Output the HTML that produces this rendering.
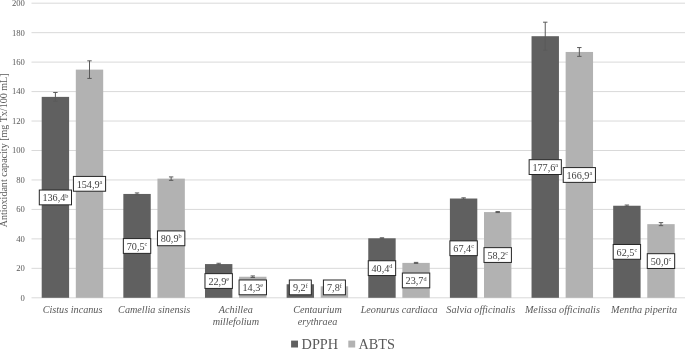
<!DOCTYPE html>
<html><head><meta charset="utf-8"><title>Antioxidant capacity chart</title><style>
html,body{margin:0;padding:0;background:#fff;}
body{width:685px;height:349px;overflow:hidden;}
svg{display:block;}
text{font-family:"Liberation Serif","Times New Roman",serif;}
.tick{font-size:8.6px;fill:#595959;}
.lab{font-size:10.2px;fill:#404040;}
.sup{font-size:6.2px;}
.cat{font-size:10.2px;font-style:italic;fill:#595959;}
.ttl{font-size:10.05px;fill:#595959;}
.leg{font-size:14.3px;fill:#595959;}
</style></head>
<body>
<svg width="685" height="349" viewBox="0 0 685 349"><line x1="31.5" x2="685" y1="297.80" y2="297.80" stroke="#d9d9d9" stroke-width="1"/><line x1="31.5" x2="685" y1="268.34" y2="268.34" stroke="#d9d9d9" stroke-width="1"/><line x1="31.5" x2="685" y1="238.88" y2="238.88" stroke="#d9d9d9" stroke-width="1"/><line x1="31.5" x2="685" y1="209.42" y2="209.42" stroke="#d9d9d9" stroke-width="1"/><line x1="31.5" x2="685" y1="179.96" y2="179.96" stroke="#d9d9d9" stroke-width="1"/><line x1="31.5" x2="685" y1="150.50" y2="150.50" stroke="#d9d9d9" stroke-width="1"/><line x1="31.5" x2="685" y1="121.04" y2="121.04" stroke="#d9d9d9" stroke-width="1"/><line x1="31.5" x2="685" y1="91.58" y2="91.58" stroke="#d9d9d9" stroke-width="1"/><line x1="31.5" x2="685" y1="62.12" y2="62.12" stroke="#d9d9d9" stroke-width="1"/><line x1="31.5" x2="685" y1="32.66" y2="32.66" stroke="#d9d9d9" stroke-width="1"/><line x1="31.5" x2="685" y1="3.20" y2="3.20" stroke="#d9d9d9" stroke-width="1"/><text x="24.8" y="300.70" text-anchor="end" class="tick">0</text><text x="24.8" y="271.24" text-anchor="end" class="tick">20</text><text x="24.8" y="241.78" text-anchor="end" class="tick">40</text><text x="24.8" y="212.32" text-anchor="end" class="tick">60</text><text x="24.8" y="182.86" text-anchor="end" class="tick">80</text><text x="24.8" y="153.40" text-anchor="end" class="tick">100</text><text x="24.8" y="123.94" text-anchor="end" class="tick">120</text><text x="24.8" y="94.48" text-anchor="end" class="tick">140</text><text x="24.8" y="65.02" text-anchor="end" class="tick">160</text><text x="24.8" y="35.56" text-anchor="end" class="tick">180</text><text x="24.8" y="6.10" text-anchor="end" class="tick">200</text><rect x="41.70" y="96.88" width="27.4" height="200.92" fill="#606060"/><rect x="75.80" y="69.63" width="27.4" height="228.17" fill="#b2b2b2"/><rect x="123.34" y="193.95" width="27.4" height="103.85" fill="#606060"/><rect x="157.44" y="178.63" width="27.4" height="119.17" fill="#b2b2b2"/><rect x="204.98" y="264.07" width="27.4" height="33.73" fill="#606060"/><rect x="239.08" y="276.74" width="27.4" height="21.06" fill="#b2b2b2"/><rect x="286.62" y="284.25" width="27.4" height="13.55" fill="#606060"/><rect x="320.72" y="286.31" width="27.4" height="11.49" fill="#b2b2b2"/><rect x="368.26" y="238.29" width="27.4" height="59.51" fill="#606060"/><rect x="402.36" y="262.89" width="27.4" height="34.91" fill="#b2b2b2"/><rect x="449.90" y="198.52" width="27.4" height="99.28" fill="#606060"/><rect x="484.00" y="212.07" width="27.4" height="85.73" fill="#b2b2b2"/><rect x="531.54" y="36.20" width="27.4" height="261.60" fill="#606060"/><rect x="565.64" y="51.96" width="27.4" height="245.84" fill="#b2b2b2"/><rect x="613.18" y="205.74" width="27.4" height="92.06" fill="#606060"/><rect x="647.28" y="224.15" width="27.4" height="73.65" fill="#b2b2b2"/><path d="M55.40 92.48V101.28M53.20 92.48H57.60M53.20 101.28H57.60" stroke="#5a5a5a" stroke-width="1" fill="none"/><path d="M89.50 60.83V78.43M87.30 60.83H91.70M87.30 78.43H91.70" stroke="#5a5a5a" stroke-width="1" fill="none"/><path d="M137.04 192.95V194.95M134.84 192.95H139.24M134.84 194.95H139.24" stroke="#5a5a5a" stroke-width="1" fill="none"/><path d="M171.14 176.93V180.33M168.94 176.93H173.34M168.94 180.33H173.34" stroke="#5a5a5a" stroke-width="1" fill="none"/><path d="M218.68 263.27V264.87M216.48 263.27H220.88M216.48 264.87H220.88" stroke="#5a5a5a" stroke-width="1" fill="none"/><path d="M252.78 275.94V277.54M250.58 275.94H254.98M250.58 277.54H254.98" stroke="#5a5a5a" stroke-width="1" fill="none"/><path d="M300.32 283.65V284.85M298.12 283.65H302.52M298.12 284.85H302.52" stroke="#5a5a5a" stroke-width="1" fill="none"/><path d="M334.42 285.71V286.91M332.22 285.71H336.62M332.22 286.91H336.62" stroke="#5a5a5a" stroke-width="1" fill="none"/><path d="M381.96 237.79V238.79M379.76 237.79H384.16M379.76 238.79H384.16" stroke="#5a5a5a" stroke-width="1" fill="none"/><path d="M416.06 262.39V263.39M413.86 262.39H418.26M413.86 263.39H418.26" stroke="#5a5a5a" stroke-width="1" fill="none"/><path d="M463.60 197.82V199.22M461.40 197.82H465.80M461.40 199.22H465.80" stroke="#5a5a5a" stroke-width="1" fill="none"/><path d="M497.70 211.57V212.57M495.50 211.57H499.90M495.50 212.57H499.90" stroke="#5a5a5a" stroke-width="1" fill="none"/><path d="M545.24 22.20V50.20M543.04 22.20H547.44M543.04 50.20H547.44" stroke="#5a5a5a" stroke-width="1" fill="none"/><path d="M579.34 47.56V56.36M577.14 47.56H581.54M577.14 56.36H581.54" stroke="#5a5a5a" stroke-width="1" fill="none"/><path d="M626.88 205.04V206.44M624.68 205.04H629.08M624.68 206.44H629.08" stroke="#5a5a5a" stroke-width="1" fill="none"/><path d="M660.98 222.65V225.65M658.78 222.65H663.18M658.78 225.65H663.18" stroke="#5a5a5a" stroke-width="1" fill="none"/><rect x="39.30" y="190.04" width="32.20" height="14.8" fill="#fff" stroke="#262626" stroke-width="1"/><text x="55.40" y="201.14" text-anchor="middle" class="lab">136,4<tspan class="sup" dy="-3.6">b</tspan></text><rect x="73.40" y="176.42" width="32.20" height="14.8" fill="#fff" stroke="#262626" stroke-width="1"/><text x="89.50" y="187.52" text-anchor="middle" class="lab">154,9<tspan class="sup" dy="-3.6">a</tspan></text><rect x="123.34" y="238.58" width="27.40" height="14.8" fill="#fff" stroke="#262626" stroke-width="1"/><text x="137.04" y="249.68" text-anchor="middle" class="lab">70,5<tspan class="sup" dy="-3.6">c</tspan></text><rect x="157.44" y="230.92" width="27.40" height="14.8" fill="#fff" stroke="#262626" stroke-width="1"/><text x="171.14" y="242.02" text-anchor="middle" class="lab">80,9<tspan class="sup" dy="-3.6">b</tspan></text><rect x="204.98" y="273.63" width="27.40" height="14.8" fill="#fff" stroke="#262626" stroke-width="1"/><text x="218.68" y="284.73" text-anchor="middle" class="lab">22,9<tspan class="sup" dy="-3.6">e</tspan></text><rect x="239.08" y="279.97" width="27.40" height="14.8" fill="#fff" stroke="#262626" stroke-width="1"/><text x="252.78" y="291.07" text-anchor="middle" class="lab">14,3<tspan class="sup" dy="-3.6">e</tspan></text><rect x="289.32" y="280.00" width="22.00" height="14.8" fill="#fff" stroke="#262626" stroke-width="1"/><text x="300.32" y="291.10" text-anchor="middle" class="lab">9,2<tspan class="sup" dy="-3.6">f</tspan></text><rect x="323.42" y="280.00" width="22.00" height="14.8" fill="#fff" stroke="#262626" stroke-width="1"/><text x="334.42" y="291.10" text-anchor="middle" class="lab">7,8<tspan class="sup" dy="-3.6">f</tspan></text><rect x="368.26" y="260.75" width="27.40" height="14.8" fill="#fff" stroke="#262626" stroke-width="1"/><text x="381.96" y="271.85" text-anchor="middle" class="lab">40,4<tspan class="sup" dy="-3.6">d</tspan></text><rect x="402.36" y="273.04" width="27.40" height="14.8" fill="#fff" stroke="#262626" stroke-width="1"/><text x="416.06" y="284.14" text-anchor="middle" class="lab">23,7<tspan class="sup" dy="-3.6">d</tspan></text><rect x="449.90" y="240.86" width="27.40" height="14.8" fill="#fff" stroke="#262626" stroke-width="1"/><text x="463.60" y="251.96" text-anchor="middle" class="lab">67,4<tspan class="sup" dy="-3.6">c</tspan></text><rect x="484.00" y="247.64" width="27.40" height="14.8" fill="#fff" stroke="#262626" stroke-width="1"/><text x="497.70" y="258.74" text-anchor="middle" class="lab">58,2<tspan class="sup" dy="-3.6">c</tspan></text><rect x="529.14" y="159.70" width="32.20" height="14.8" fill="#fff" stroke="#262626" stroke-width="1"/><text x="545.24" y="170.80" text-anchor="middle" class="lab">177,6<tspan class="sup" dy="-3.6">a</tspan></text><rect x="563.24" y="167.58" width="32.20" height="14.8" fill="#fff" stroke="#262626" stroke-width="1"/><text x="579.34" y="178.68" text-anchor="middle" class="lab">166,9<tspan class="sup" dy="-3.6">a</tspan></text><rect x="613.18" y="244.47" width="27.40" height="14.8" fill="#fff" stroke="#262626" stroke-width="1"/><text x="626.88" y="255.57" text-anchor="middle" class="lab">62,5<tspan class="sup" dy="-3.6">c</tspan></text><rect x="647.28" y="253.68" width="27.40" height="14.8" fill="#fff" stroke="#262626" stroke-width="1"/><text x="660.98" y="264.78" text-anchor="middle" class="lab">50,0<tspan class="sup" dy="-3.6">c</tspan></text><text x="72.55" y="312.8" text-anchor="middle" class="cat">Cistus incanus</text><text x="154.19" y="312.8" text-anchor="middle" class="cat">Camellia sinensis</text><text x="235.83" y="312.8" text-anchor="middle" class="cat">Achillea</text><text x="235.83" y="324.5" text-anchor="middle" class="cat">millefolium</text><text x="317.47" y="312.8" text-anchor="middle" class="cat">Centaurium</text><text x="317.47" y="324.5" text-anchor="middle" class="cat">erythraea</text><text x="399.11" y="312.8" text-anchor="middle" class="cat">Leonurus cardiaca</text><text x="480.75" y="312.8" text-anchor="middle" class="cat">Salvia officinalis</text><text x="562.39" y="312.8" text-anchor="middle" class="cat">Melissa officinalis</text><text x="644.03" y="312.8" text-anchor="middle" class="cat">Mentha piperita</text><text transform="translate(7.4,150.4) rotate(-90)" text-anchor="middle" class="ttl">Antioxidant capacity [mg Tx/100 mL]</text><rect x="291.1" y="340.6" width="6.9" height="6.9" fill="#606060"/><text x="301.6" y="348.7" class="leg">DPPH</text><rect x="348.3" y="340.6" width="6.9" height="6.9" fill="#b2b2b2"/><text x="358.4" y="348.7" class="leg">ABTS</text></svg>
</body></html>
